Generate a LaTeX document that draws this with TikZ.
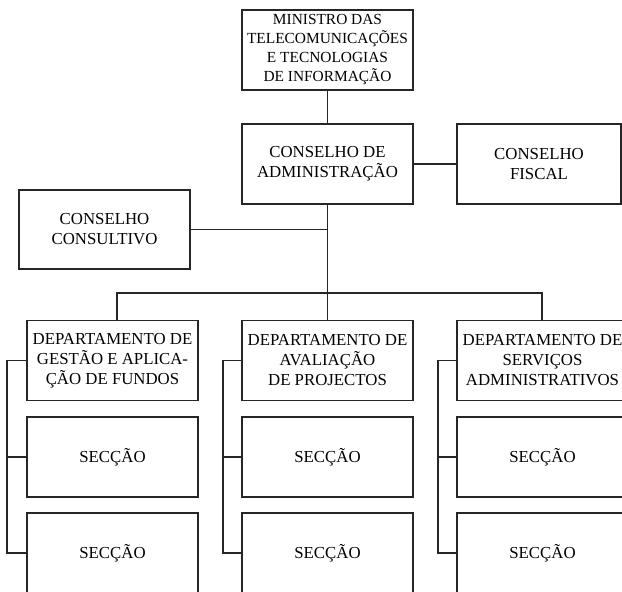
\documentclass[tikz,border=0pt]{standalone}
\usepackage{fontspec}
\setmainfont{Liberation Serif}
\begin{document}
\begin{tikzpicture}[x=1pt,y=-1pt,
  box/.style={draw=black!85,line width=1.2pt,rectangle,align=center,inner sep=0pt,
    minimum width=171pt,minimum height=80pt,font=\fontsize{16.8}{20}\selectfont},
  conn/.style={draw=black!85,line width=1.2pt}]
\useasboundingbox (0,0) rectangle (622,592);
\clip (0,0) rectangle (622,592);
\fill[white] (0,0) rectangle (622,592);
% top level
\node[box,font=\fontsize{15.4}{19}\selectfont] (min) at (327.5,50) {MINISTRO DAS\\TELECOMUNICAÇÕES\\E TECNOLOGIAS\\DE INFORMAÇÃO};
\node[box] (adm) at (327.5,164) {CONSELHO DE\\ADMINISTRAÇÃO};
\node[box,minimum width=164pt] (fis) at (539,164) {CONSELHO\\FISCAL};
\node[box,minimum height=79pt] (con) at (104.5,229.5) {CONSELHO\\CONSULTIVO};
% departments
\node[box] (dL) at (112.5,360.5) {DEPARTAMENTO DE\\GESTÃO E APLICA-\\ÇÃO DE FUNDOS};
\node[box] (dM) at (327.5,360.5) {DEPARTAMENTO DE\\AVALIAÇÃO\\DE PROJECTOS};
\node[box] (dR) at (542.5,360.5) {DEPARTAMENTO DE\\SERVIÇOS\\ADMINISTRATIVOS};
% sections
\node[box] (s1L) at (112.5,457) {SECÇÃO};
\node[box] (s2L) at (112.5,553) {SECÇÃO};
\node[box] (s1M) at (327.5,457) {SECÇÃO};
\node[box] (s2M) at (327.5,553) {SECÇÃO};
\node[box] (s1R) at (542.5,457) {SECÇÃO};
\node[box] (s2R) at (542.5,553) {SECÇÃO};
% connectors
\coordinate (bar) at (327.5,293);
\coordinate (barL) at (117,293);
\coordinate (barR) at (542,293);
\draw[conn] (min.south) -- (adm.north);
\draw[conn] (adm.east) -- (fis.west);
\draw[conn] (adm.south) -- (bar);
\draw[conn] (con.east) -- (con.east -| adm.south);
\draw[conn] (barL |- dL.north) -- (barL) -- (barR) -- (barR |- dR.north);
\draw[conn] (bar) -- (dM.north);
% brackets
\coordinate (bL) at (7,0);
\coordinate (bM) at (223,0);
\coordinate (bR) at (438,0);
\draw[conn] (dL.west) -- (dL.west -| bL) -- (s2L.west -| bL) -- (s2L.west);
\draw[conn] (s1L.west -| bL) -- (s1L.west);
\draw[conn] (dM.west) -- (dM.west -| bM) -- (s2M.west -| bM) -- (s2M.west);
\draw[conn] (s1M.west -| bM) -- (s1M.west);
\draw[conn] (dR.west) -- (dR.west -| bR) -- (s2R.west -| bR) -- (s2R.west);
\draw[conn] (s1R.west -| bR) -- (s1R.west);
\end{tikzpicture}
\end{document}
